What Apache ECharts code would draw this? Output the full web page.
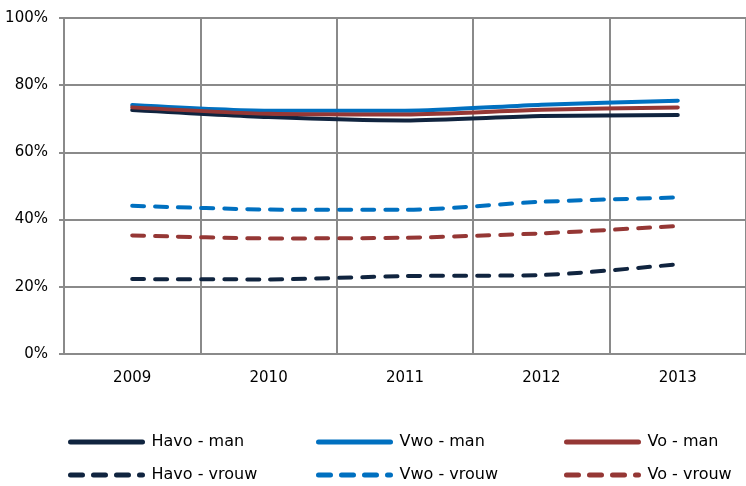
<!DOCTYPE html>
<html>
<head>
<meta charset="utf-8">
<script src="https://cdn.jsdelivr.net/npm/echarts@6/dist/echarts.min.js"></script>
<style>
html,body{margin:0;padding:0;background:#fff;}
#chart{width:746px;height:486px;}
</style>
</head>
<body>
<div id="chart"></div>
<script>
var years = ['2009', '2010', '2011', '2012', '2013'];
var havoMan = [72.6, 70.5, 69.5, 70.8, 71.1];
var vwoMan = [74.1, 72.4, 72.4, 74.2, 75.4];
var voMan = [73.4, 71.5, 71.3, 72.7, 73.4];
var havoVrouw = [22.3, 22.2, 23.2, 23.5, 26.7];
var vwoVrouw = [44.1, 43.0, 42.9, 45.3, 46.6];
var voVrouw = [35.3, 34.4, 34.6, 35.9, 38.1];
var yTicks = [0, 20, 40, 60, 80, 100];

var NAVY = '#10243F';
var BLUE = '#0070C0';
var RED = '#953735';
var FONT = 'DejaVu Sans';

function mk(name, data, color, dashed) {
  return {
    name: name,
    type: 'line',
    data: data,
    symbol: 'none',
    smooth: 0.25,
    lineStyle: {
      color: color,
      width: 4,
      type: dashed ? [12, 11] : 'solid',
      cap: 'round'
    },
    itemStyle: { color: color }
  };
}

var series = [
  mk('Havo - man', havoMan, NAVY, false),
  mk('Vwo - man', vwoMan, BLUE, false),
  mk('Vo - man', voMan, RED, false),
  mk('Havo - vrouw', havoVrouw, NAVY, true),
  mk('Vwo - vrouw', vwoVrouw, BLUE, true),
  mk('Vo - vrouw', voVrouw, RED, true)
];
var legendPos = [
  { name: 'Havo - man', left: 68, top: 434, dashed: false },
  { name: 'Vwo - man', left: 316, top: 434, dashed: false },
  { name: 'Vo - man', left: 564, top: 434, dashed: false },
  { name: 'Havo - vrouw', left: 68, top: 467, dashed: true },
  { name: 'Vwo - vrouw', left: 316, top: 467, dashed: true },
  { name: 'Vo - vrouw', left: 564, top: 467, dashed: true }
];
var legends = legendPos.map(function (p) {
  return {
    data: [p.name],
    left: p.left,
    top: p.top,
    padding: 0,
    itemWidth: 72,
    itemHeight: 16,
    itemGap: 0,
    selectedMode: false,
    itemStyle: { opacity: 0 },
    lineStyle: { width: 5, type: p.dashed ? [12, 11] : 'solid', cap: 'round' },
    textStyle: { fontFamily: FONT, fontSize: 16, color: '#000', padding: [0, 0, 0, 4] }
  };
});

var chart = echarts.init(document.getElementById('chart'), null, { renderer: 'canvas' });
chart.setOption({
  animation: false,
  backgroundColor: '#fff',
  grid: { left: 64, top: 18, width: 689, height: 336, containLabel: false },
  legend: legends,
  xAxis: {
    type: 'category',
    data: years,
    boundaryGap: true,
    axisLine: { show: true, lineStyle: { color: '#8a8a8a', width: 2 } },
    axisTick: { show: false },
    axisLabel: { fontFamily: FONT, fontSize: 15, color: '#000', margin: 17 },
    splitLine: { show: true, lineStyle: { color: '#8a8a8a', width: 2 } }
  },
  yAxis: {
    type: 'value',
    min: yTicks[0],
    max: yTicks[yTicks.length - 1],
    interval: 20,
    axisLine: { show: true, lineStyle: { color: '#8a8a8a', width: 2 } },
    axisTick: { show: true, length: 5, lineStyle: { color: '#8a8a8a', width: 2 } },
    axisLabel: { fontFamily: FONT, fontSize: 15, color: '#000', margin: 16, formatter: '{value}%' },
    splitLine: { show: true, lineStyle: { color: '#8a8a8a', width: 2 } }
  },
  series: series
});
</script>
</body>
</html>
